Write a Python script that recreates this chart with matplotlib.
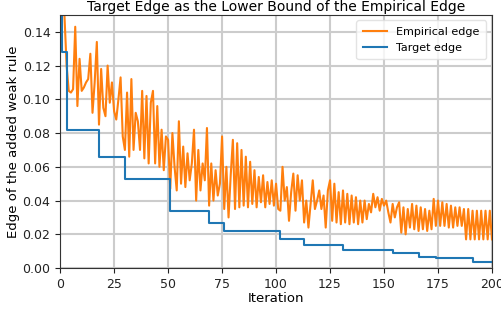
import numpy as np
import matplotlib
matplotlib.use("Agg")
import matplotlib.pyplot as plt

# empirical edge of the weak rule added at each iteration
empirical_edge = [
    0.300, 0.200, 0.150, 0.120, 0.105, 0.104, 0.106, 0.143, 0.096, 0.124,
    0.105, 0.107, 0.110, 0.112, 0.127, 0.092, 0.110, 0.134, 0.085, 0.118,
    0.095, 0.090, 0.120, 0.098, 0.110, 0.093, 0.088, 0.100, 0.113, 0.078,
    0.070, 0.104, 0.066, 0.112, 0.070, 0.092, 0.087, 0.070, 0.105, 0.065,
    0.102, 0.062, 0.098, 0.105, 0.062, 0.096, 0.060, 0.082, 0.058, 0.078,
    0.076, 0.047, 0.080, 0.060, 0.046, 0.087, 0.050, 0.072, 0.048, 0.068,
    0.052, 0.062, 0.082, 0.040, 0.070, 0.046, 0.062, 0.052, 0.083, 0.037,
    0.062, 0.040, 0.058, 0.043, 0.050, 0.078, 0.035, 0.060, 0.030, 0.055,
    0.076, 0.035, 0.074, 0.036, 0.070, 0.037, 0.066, 0.036, 0.063, 0.038,
    0.058, 0.036, 0.054, 0.039, 0.055, 0.036, 0.051, 0.038, 0.052, 0.037,
    0.050, 0.035, 0.034, 0.060, 0.040, 0.048, 0.028, 0.045, 0.056, 0.034,
    0.055, 0.040, 0.052, 0.027, 0.040, 0.024, 0.038, 0.052, 0.035, 0.040,
    0.046, 0.035, 0.043, 0.024, 0.046, 0.052, 0.028, 0.050, 0.027, 0.045,
    0.026, 0.046, 0.027, 0.044, 0.026, 0.043, 0.027, 0.042, 0.026, 0.040,
    0.027, 0.040, 0.029, 0.038, 0.033, 0.044, 0.036, 0.042, 0.034, 0.041,
    0.037, 0.040, 0.033, 0.027, 0.038, 0.030, 0.036, 0.039, 0.021, 0.036,
    0.020, 0.035, 0.024, 0.038, 0.023, 0.037, 0.022, 0.036, 0.023, 0.035,
    0.022, 0.034, 0.023, 0.041, 0.025, 0.040, 0.025, 0.039, 0.025, 0.038,
    0.024, 0.037, 0.024, 0.036, 0.025, 0.036, 0.025, 0.035, 0.017, 0.035,
    0.017, 0.034, 0.017, 0.034, 0.017, 0.034, 0.017, 0.034, 0.017, 0.034,
    0.017,
]

# target edge: iteration where each level starts, and the level
target_start = [0, 1, 3, 18, 30, 51, 69, 76, 102, 113, 131, 154, 166, 174, 191, 200]
target_level = [0.300, 0.128, 0.082, 0.066, 0.053, 0.034, 0.027, 0.022, 0.017,
                0.0136, 0.011, 0.0089, 0.0068, 0.0058, 0.0036, 0.0036]

iterations = np.arange(len(empirical_edge))

fig = plt.figure(figsize=(5.01, 3.11), dpi=100)
ax = fig.add_axes([0.12, 0.138, 0.862, 0.814])

ax.plot(iterations, empirical_edge, color="#ff7f0e", lw=1.5, label="Empirical edge")
ax.plot(target_start, target_level, color="#1f77b4", lw=1.5, drawstyle="steps-post", label="Target edge")

ax.set_xlim(0, 200)
ax.set_ylim(0, 0.15)
ax.set_xticks(np.arange(0, 201, 25))
ax.set_yticks(np.arange(0, 0.141, 0.02))
ax.yaxis.set_major_formatter(matplotlib.ticker.FormatStrFormatter("%.2f"))
ax.grid(True, color="#cccccc", lw=1.5)
ax.set_axisbelow(True)
for s in ax.spines.values():
    s.set_color("#333333")

ax.set_title("Target Edge as the Lower Bound of the Empirical Edge", fontsize=10, pad=3)
ax.set_xlabel("Iteration", fontsize=9.5, labelpad=1)
ax.set_ylabel("Edge of the added weak rule", fontsize=9.5, labelpad=2)
ax.tick_params(labelsize=9, colors="#222222")
leg = ax.legend(loc="upper right", fontsize=8, borderpad=0.6, handlelength=2.2)
leg.get_frame().set_edgecolor("#dddddd")

fig.savefig("out.png", dpi=100)
